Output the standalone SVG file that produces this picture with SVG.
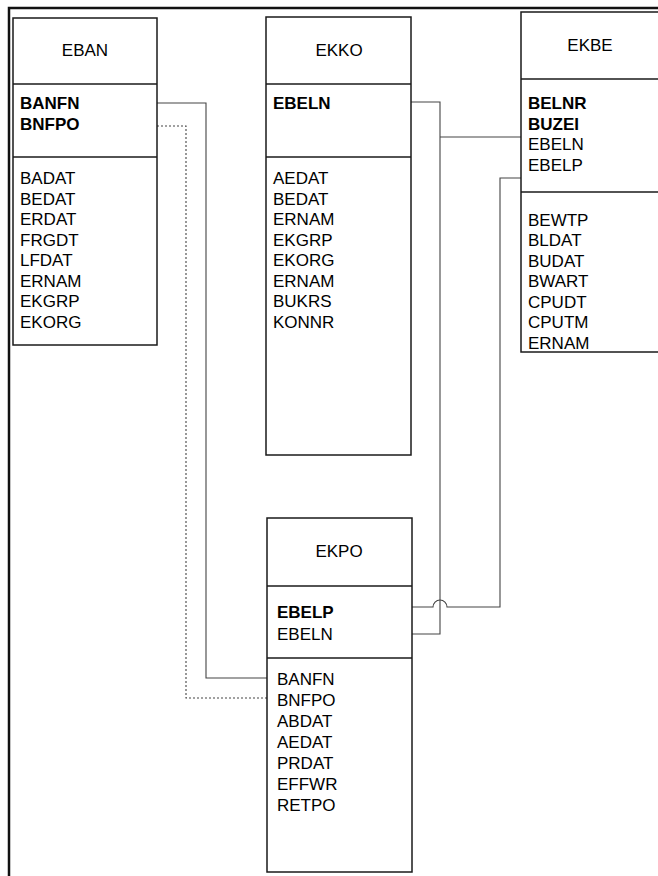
<svg xmlns="http://www.w3.org/2000/svg" width="658" height="876" viewBox="0 0 658 876">
<style>
.box{fill:#fff;stroke:#1a1a1a;stroke-width:1.5}
.div{stroke:#1a1a1a;stroke-width:1.5}
.t{font-family:"Liberation Sans",Arial,sans-serif;font-size:17px;fill:#000}
.title{text-anchor:middle}
.k{font-weight:bold}
.c{fill:none;stroke:#444;stroke-width:1.1}
.d{stroke-dasharray:2,2}
.frame{stroke:#111;stroke-width:2.5;fill:none}
</style>
<rect width="658" height="876" fill="#fff"/>
<path class="frame" d="M9,876 V8 H658"/>
<g id="connectors">
  <path class="c" d="M157,103 H206 V678 H267"/>
  <path class="c d" d="M157,126 H186 V698 H267"/>
  <path class="c" d="M411,102 H440 V634 H412"/>
  <path class="c" d="M440,137 H521"/>
  <path class="c" d="M521,178 H500 V607 H447 A7,7 0 0 0 433,607 H412"/>
</g>
<g id="EBAN">
  <rect class="box" x="13" y="18" width="144" height="327"/>
  <line class="div" x1="13" y1="84" x2="157" y2="84"/>
  <line class="div" x1="13" y1="157" x2="157" y2="157"/>
  <text class="t title" x="85" y="56">EBAN</text>
  <text class="t k" x="20" y="109">BANFN</text>
  <text class="t k" x="20" y="130">BNFPO</text>
  <text class="t" x="20" y="184">BADAT</text>
  <text class="t" x="20" y="205">BEDAT</text>
  <text class="t" x="20" y="225">ERDAT</text>
  <text class="t" x="20" y="246">FRGDT</text>
  <text class="t" x="20" y="266">LFDAT</text>
  <text class="t" x="20" y="287">ERNAM</text>
  <text class="t" x="20" y="307">EKGRP</text>
  <text class="t" x="20" y="328">EKORG</text>
</g>
<g id="EKKO">
  <rect class="box" x="266" y="17" width="145" height="438"/>
  <line class="div" x1="266" y1="84" x2="411" y2="84"/>
  <line class="div" x1="266" y1="157" x2="411" y2="157"/>
  <text class="t title" x="339" y="56">EKKO</text>
  <text class="t k" x="273" y="109">EBELN</text>
  <text class="t" x="273" y="184">AEDAT</text>
  <text class="t" x="273" y="205">BEDAT</text>
  <text class="t" x="273" y="225">ERNAM</text>
  <text class="t" x="273" y="246">EKGRP</text>
  <text class="t" x="273" y="266">EKORG</text>
  <text class="t" x="273" y="287">ERNAM</text>
  <text class="t" x="273" y="307">BUKRS</text>
  <text class="t" x="273" y="328">KONNR</text>
</g>
<g id="EKBE">
  <rect class="box" x="521" y="12" width="150" height="340"/>
  <line class="div" x1="521" y1="79" x2="658" y2="79"/>
  <line class="div" x1="521" y1="192" x2="658" y2="192"/>
  <text class="t title" x="590" y="51">EKBE</text>
  <text class="t k" x="528" y="109">BELNR</text>
  <text class="t k" x="528" y="130">BUZEI</text>
  <text class="t" x="528" y="150">EBELN</text>
  <text class="t" x="528" y="171">EBELP</text>
  <text class="t" x="528" y="226">BEWTP</text>
  <text class="t" x="528" y="246">BLDAT</text>
  <text class="t" x="528" y="267">BUDAT</text>
  <text class="t" x="528" y="287">BWART</text>
  <text class="t" x="528" y="308">CPUDT</text>
  <text class="t" x="528" y="328">CPUTM</text>
  <text class="t" x="528" y="349">ERNAM</text>
</g>
<g id="EKPO">
  <rect class="box" x="267" y="518" width="145" height="354"/>
  <line class="div" x1="267" y1="586" x2="412" y2="586"/>
  <line class="div" x1="267" y1="658" x2="412" y2="658"/>
  <text class="t title" x="339" y="557">EKPO</text>
  <text class="t k" x="277" y="618">EBELP</text>
  <text class="t" x="277" y="640">EBELN</text>
  <text class="t" x="277" y="685">BANFN</text>
  <text class="t" x="277" y="706">BNFPO</text>
  <text class="t" x="277" y="727">ABDAT</text>
  <text class="t" x="277" y="748">AEDAT</text>
  <text class="t" x="277" y="769">PRDAT</text>
  <text class="t" x="277" y="790">EFFWR</text>
  <text class="t" x="277" y="811">RETPO</text>
</g>
</svg>
